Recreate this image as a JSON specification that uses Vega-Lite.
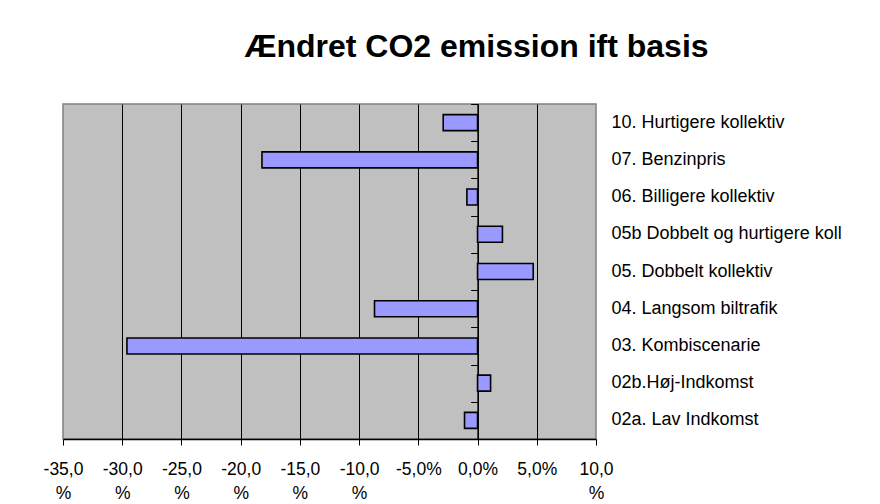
{
  "$schema": "https://vega.github.io/schema/vega-lite/v6.json",
  "width": 533,
  "height": 335,
  "autosize": "none",
  "padding": {"left": 63, "top": 104, "right": 284, "bottom": 65},
  "background": "white",
  "title": {
    "text": "Ændret CO2 emission ift basis",
    "font": "Liberation Sans",
    "fontSize": 32,
    "fontWeight": "bold",
    "color": "black",
    "anchor": "middle",
    "frame": "group",
    "dx": 147,
    "offset": 40
  },
  "config": {
    "view": {"fill": "#c0c0c0", "stroke": "#808080", "strokeWidth": 1.5},
    "font": "Liberation Sans"
  },
  "data": {
    "values": [
      {"scenarie": "10. Hurtigere kollektiv", "aendring": -2.9},
      {"scenarie": "07. Benzinpris", "aendring": -18.2},
      {"scenarie": "06. Billigere kollektiv", "aendring": -0.9},
      {"scenarie": "05b Dobbelt og hurtigere koll", "aendring": 2.1},
      {"scenarie": "05. Dobbelt kollektiv", "aendring": 4.7},
      {"scenarie": "04. Langsom biltrafik", "aendring": -8.7},
      {"scenarie": "03. Kombiscenarie", "aendring": -29.6},
      {"scenarie": "02b.Høj-Indkomst", "aendring": 1.1},
      {"scenarie": "02a. Lav Indkomst", "aendring": -1.1}
    ]
  },
  "layer": [
    {
      "mark": {"type": "bar", "height": {"band": 0.43}, "fill": "#9999ff", "stroke": "black", "strokeWidth": 1.6},
      "encoding": {
        "x": {
          "field": "aendring",
          "type": "quantitative",
          "scale": {"domain": [-35, 10], "nice": false, "zero": false},
          "axis": {
            "title": null,
            "values": [-35, -30, -25, -20, -15, -10, -5, 0, 5, 10],
            "labelExpr": "abs(datum.value) >= 10 ? [(datum.value < 0 ? '-' : '') + replace(format(abs(datum.value), '.1f'), '.', ','), '%'] : (datum.value < 0 ? '-' : '') + replace(format(abs(datum.value), '.1f'), '.', ',') + '%'",
            "labelFont": "Liberation Sans",
            "labelFontSize": 17.5,
            "labelColor": "black",
            "labelLineHeight": 24,
            "labelPadding": 15,
            "labelBaseline": "top",
            "labelFlush": false,
            "labelOverlap": false,
            "domainColor": "black",
            "domainWidth": 1.5,
            "tickColor": "black",
            "tickSize": 6,
            "tickWidth": 1,
            "grid": true,
            "gridColor": {"condition": {"test": "datum.value == -35 || datum.value == 10", "value": "transparent"}, "value": "black"},
            "gridWidth": 1
          }
        },
        "y": {
          "field": "scenarie",
          "type": "nominal",
          "sort": null,
          "scale": {"paddingInner": 0, "paddingOuter": 0},
          "axis": {
            "orient": "left",
            "title": null,
            "labels": false,
            "grid": false,
            "offset": -414.6,
            "tickBand": "extent",
            "tickSize": 7,
            "tickColor": "black",
            "tickWidth": 1,
            "domainColor": "black",
            "domainWidth": 1.5
          }
        }
      }
    },
    {
      "mark": {"type": "text", "text": ""},
      "encoding": {
        "y": {
          "field": "scenarie",
          "type": "nominal",
          "sort": null,
          "axis": {
            "orient": "right",
            "title": null,
            "domain": false,
            "ticks": false,
            "grid": false,
            "labelPadding": 15,
            "labelFont": "Liberation Sans",
            "labelFontSize": 18,
            "labelColor": "black",
            "labelLimit": 300
          }
        }
      }
    }
  ],
  "resolve": {"axis": {"y": "independent"}}
}
